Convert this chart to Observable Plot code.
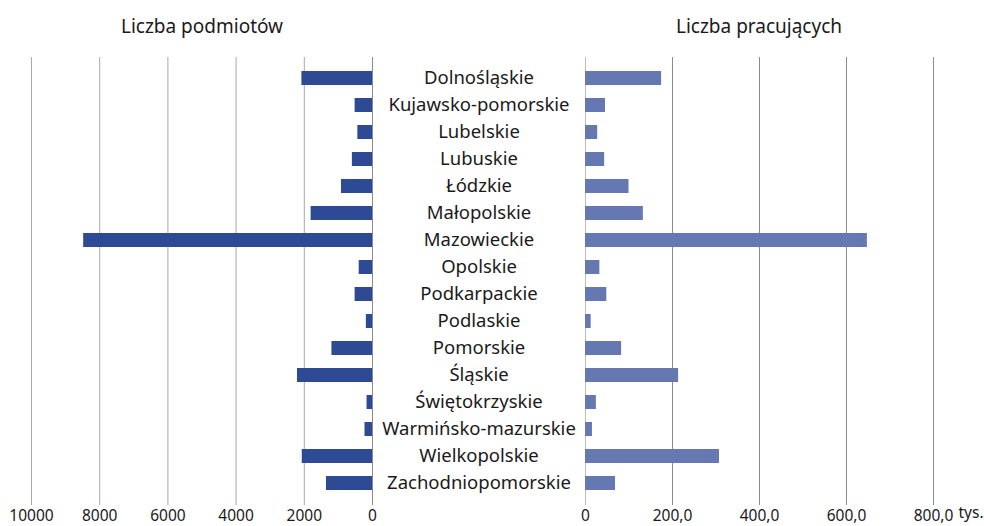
<!DOCTYPE html>
<html>
<head>
<meta charset="utf-8">
<script src="https://cdn.jsdelivr.net/npm/d3@7"></script>
<script src="https://cdn.jsdelivr.net/npm/@observablehq/plot@0.6"></script>
<style>
  html, body { margin: 0; padding: 0; background: #fff; }
  #wrap { position: relative; width: 984px; height: 526px; font-family: "Noto Sans", sans-serif; color: #1a1a1a; }
  .title { position: absolute; top: 13px; font-size: 19px; line-height: 26px; transform: translateX(-50%); white-space: nowrap; }
  #left, #right { position: absolute; top: 0; }
  #left { left: 0; }
  #right { left: 380px; }
</style>
</head>
<body>
<div id="wrap">
  <div class="title" style="left:202px">Liczba podmiotów</div>
  <div class="title" style="left:759px">Liczba pracujących</div>
  <div id="left"></div>
  <div id="right"></div>
</div>
<script>
const regions = ["Dolnośląskie","Kujawsko-pomorskie","Lubelskie","Lubuskie","Łódzkie","Małopolskie","Mazowieckie","Opolskie","Podkarpackie","Podlaskie","Pomorskie","Śląskie","Świętokrzyskie","Warmińsko-mazurskie","Wielkopolskie","Zachodniopomorskie"];
const podmioty = [2070, 510, 430, 590, 910, 1800, 8470, 390, 510, 180, 1190, 2200, 160, 220, 2060, 1350];
const pracujacy = [175, 46, 28, 44, 100, 133, 648, 33, 49, 13, 83, 214, 25, 16, 308, 69];
const leftTicks = [0, 2000, 4000, 6000, 8000, 10000];
const rightTicks = [0, 200, 400, 600, 800];
const rightUnit = "tys.";

const data = regions.map((r, i) => ({region: r, podmioty: podmioty[i], pracujacy: pracujacy[i]}));

const yScale = {domain: regions, paddingInner: 0.47, paddingOuter: 0.51, axis: null};

const left = Plot.plot({
  width: 380, height: 526,
  marginLeft: 31, marginRight: 8, marginTop: 57, marginBottom: 21,
  style: {fontFamily: "Noto Sans", fontSize: "16px", color: "#1a1a1a", background: "transparent"},
  x: {domain: [0, 10000], reverse: true},
  y: yScale,
  marks: [
    Plot.gridX(leftTicks.filter(d => d !== 0), {stroke: "#a8a8a8", strokeOpacity: 1}),
    Plot.barX(data, {x: "podmioty", y: "region", fill: "#2f4a94"}),
    Plot.ruleX([0], {stroke: "#8a8a8a"}),
    Plot.axisX(leftTicks, {tickSize: 0, tickPadding: 4, fontSize: 15.5, label: null, tickFormat: d => String(d)})
  ]
});
document.getElementById("left").appendChild(left);

const right = Plot.plot({
  width: 604, height: 526,
  marginLeft: 205, marginRight: 51, marginTop: 57, marginBottom: 21,
  style: {fontFamily: "Noto Sans", fontSize: "16px", color: "#1a1a1a", background: "transparent", overflow: "visible"},
  x: {domain: [0, 800]},
  y: yScale,
  marks: [
    Plot.gridX(rightTicks.filter(d => d !== 0), {stroke: "#8c8c8c", strokeOpacity: 1}),
    Plot.ruleX([0], {stroke: "#bdbdbd"}),
    Plot.barX(data, {x: "pracujacy", y: "region", fill: "#6578b2"}),
    Plot.text(data, {y: "region", text: "region", frameAnchor: "left", dx: -106.5, textAnchor: "middle", fontSize: 18.5, fill: "#1a1a1a"}),
    Plot.axisX(rightTicks, {tickSize: 0, tickPadding: 4, fontSize: 15.5, label: null, tickFormat: d => d === 0 ? "0" : d.toFixed(1).replace(".", ",")}),
    Plot.text([rightTicks[rightTicks.length - 1]], {x: d => d, text: () => rightUnit, frameAnchor: "bottom", dy: 12, dx: 25, textAnchor: "start", fontSize: 15.5, fill: "#1a1a1a"})
  ]
});
document.getElementById("right").appendChild(right);
</script>
</body>
</html>
